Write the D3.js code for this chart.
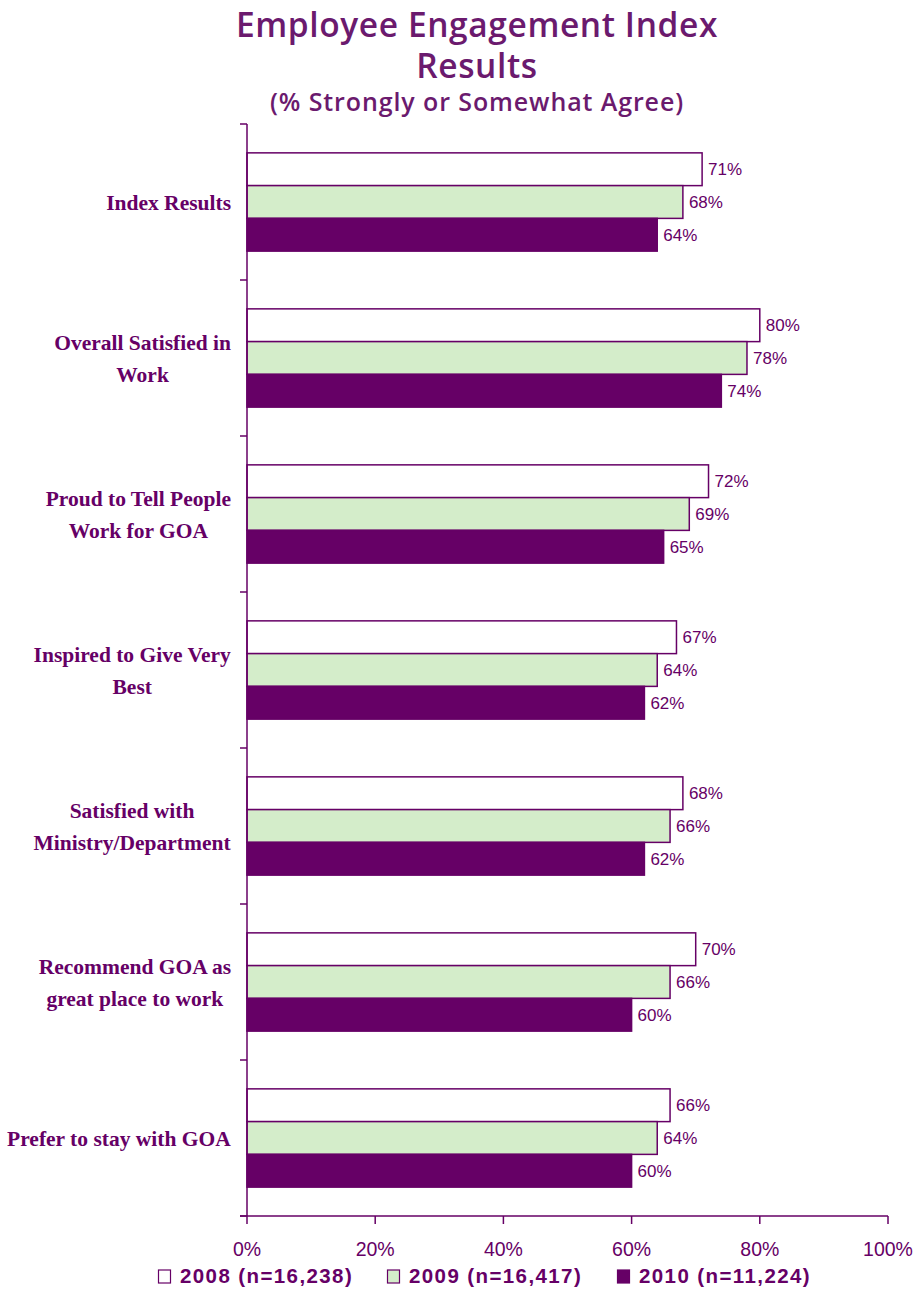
<!DOCTYPE html>
<html>
<head>
<meta charset="utf-8">
<script src="https://cdn.jsdelivr.net/npm/d3@7"></script>
<style>
  body { margin: 0; background: #fff; }
</style>
</head>
<body>
<svg id="chart"></svg>
<script>
const categories = [
  ['Index Results'],
  ['Overall Satisfied in', 'Work'],
  ['Proud to Tell People', 'Work for GOA'],
  ['Inspired to Give Very', 'Best'],
  ['Satisfied with', 'Ministry/Department'],
  ['Recommend GOA as', 'great place to work'],
  ['Prefer to stay with GOA']
];
const seriesNames = ['2008 (n=16,238)', '2009 (n=16,417)', '2010 (n=11,224)'];
const values2008 = [71, 80, 72, 67, 68, 70, 66];
const values2009 = [68, 78, 69, 64, 66, 66, 64];
const values2010 = [64, 74, 65, 62, 62, 60, 60];
const tickValues = [0, 20, 40, 60, 80, 100];

const purple = '#660066';
const fills = ['#ffffff', '#d4edca', '#660066'];

const width = 917, height = 1290;
const margin = { left: 247, right: 29, top: 124, bottom: 74 };

const svg = d3.select('#chart').attr('width', width).attr('height', height);

const series = [values2008, values2009, values2010];
const rows = categories.map((c, i) => ({ i, label: c, vals: series.map(s => s[i]) }));

const x = d3.scaleLinear().domain([0, 100]).range([margin.left, width - margin.right]);
const y = d3.scaleBand().domain(d3.range(categories.length))
  .range([margin.top, height - margin.bottom]).paddingInner(0.37).paddingOuter(0.185);
const yInner = d3.scaleBand().domain(d3.range(series.length)).range([0, y.bandwidth()]);

// title
const title = svg.append('g').attr('fill', '#6b1a6e')
  .style('font-family', '"Open Sans", sans-serif')
  .style('font-weight', 600)
  .attr('text-anchor', 'middle');
title.append('text').attr('x', 477).attr('y', 37).style('font-size', '33.5px').style('letter-spacing', '0.6px')
  .text('Employee Engagement Index');
title.append('text').attr('x', 477).attr('y', 78).style('font-size', '33.5px').style('letter-spacing', '0.6px')
  .text('Results');
title.append('text').attr('x', 477).attr('y', 111).style('font-size', '25px').style('letter-spacing', '0.9px')
  .text('(% Strongly or Somewhat Agree)');

// bars
const groups = svg.selectAll('.grp').data(rows).enter().append('g')
  .attr('class', 'grp').attr('transform', d => `translate(0,${y(d.i)})`);

groups.selectAll('rect').data(d => d.vals).enter().append('rect')
  .attr('x', x(0))
  .attr('y', (d, j) => yInner(j))
  .attr('width', d => x(d) - x(0))
  .attr('height', yInner.bandwidth())
  .attr('fill', (d, j) => fills[j])
  .attr('stroke', purple)
  .attr('stroke-width', 1.5);

groups.selectAll('.val').data(d => d.vals).enter().append('text')
  .attr('class', 'val')
  .attr('x', d => x(d) + 6)
  .attr('y', (d, j) => yInner(j) + yInner.bandwidth() / 2)
  .attr('dy', '0.35em')
  .attr('fill', purple)
  .style('font-family', '"Liberation Sans", Arial, sans-serif')
  .style('font-size', '17px')
  .text(d => d + '%');

// category labels
const labels = svg.selectAll('.cat').data(rows).enter().append('text')
  .attr('class', 'cat')
  .attr('fill', purple)
  .attr('text-anchor', 'middle')
  .style('font-family', '"Liberation Serif", "DejaVu Serif", serif')
  .style('font-weight', 'bold')
  .style('font-size', '21.5px');

labels.each(function(d) {
  const t = d3.select(this);
  const cy = y(d.i) + y.bandwidth() / 2;
  const lh = 32;
  d.label.forEach((line, k) => {
    t.append('tspan').attr('x', 0)
      .attr('y', cy + (k - (d.label.length - 1) / 2) * lh).attr('dy', '0.35em').text(line);
  });
  const w = this.getBBox().width;
  t.selectAll('tspan').attr('x', 231 - w / 2);
});

// axes
const yStep = y.step();
const bounds = d3.range(categories.length + 1).map(k => margin.top + k * yStep);
const axisG = svg.append('g').attr('stroke', purple).attr('stroke-width', 1.5);
axisG.append('line').attr('x1', x(0)).attr('x2', x(0)).attr('y1', margin.top).attr('y2', height - margin.bottom);
axisG.selectAll('.yt').data(bounds).enter().append('line')
  .attr('x1', x(0) - 7).attr('x2', x(0)).attr('y1', d => d).attr('y2', d => d);
axisG.append('line').attr('x1', x(0) - 7).attr('x2', x(100)).attr('y1', height - margin.bottom).attr('y2', height - margin.bottom);
axisG.selectAll('.xt').data(tickValues).enter().append('line')
  .attr('x1', d => x(d)).attr('x2', d => x(d))
  .attr('y1', height - margin.bottom).attr('y2', height - margin.bottom + 8);

svg.selectAll('.xl').data(tickValues).enter().append('text')
  .attr('x', d => x(d)).attr('y', 1256)
  .attr('text-anchor', 'middle').attr('fill', purple)
  .style('font-family', '"Liberation Sans Narrow", "Liberation Sans", sans-serif')
  .style('font-size', '19.5px')
  .text(d => d + '%');

// legend
const legendX = [158, 387, 617];
const lg = svg.append('g').selectAll('g').data(seriesNames).enter().append('g')
  .attr('transform', (d, j) => `translate(${legendX[j]},1283)`);
lg.append('rect').attr('x', 0.5).attr('y', -13).attr('width', 12).attr('height', 13)
  .attr('fill', (d, j) => fills[j]).attr('stroke', purple).attr('stroke-width', 1.2);
lg.append('text').attr('x', 22).attr('y', 0)
  .attr('fill', purple)
  .style('font-family', '"Liberation Sans", sans-serif')
  .style('font-weight', 'bold').style('font-size', '20.5px').style('letter-spacing', '1.4px')
  .text(d => d);
</script>
</body>
</html>
